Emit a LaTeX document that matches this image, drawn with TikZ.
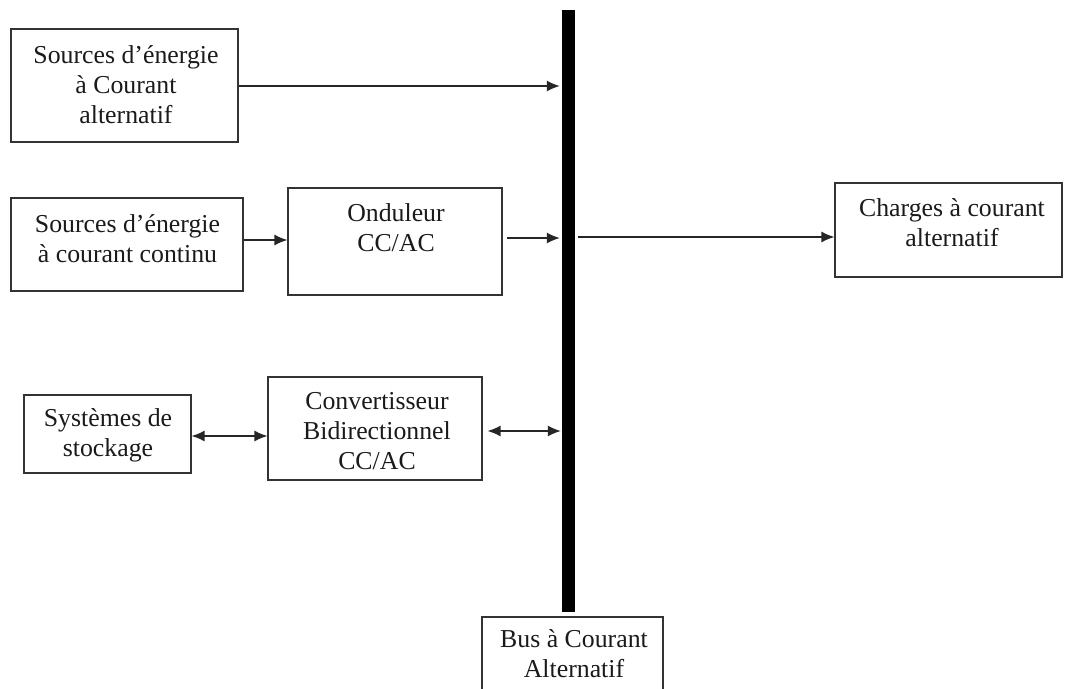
\documentclass[tikz,border=0pt]{standalone}
\usepackage{fontspec}
\setmainfont{Liberation Serif}
\usetikzlibrary{arrows.meta}
\definecolor{boxgray}{HTML}{333333}
\definecolor{txtgray}{HTML}{1A1A1A}
\tikzset{
  box/.style={draw=boxgray, line width=1.2pt, inner sep=0pt},
  txt/.style={align=center, font=\fontsize{25.8}{30}\selectfont, inner sep=0pt, text=txtgray},
  arr/.style={draw=black!85, line width=1.3pt, -{Latex[length=13pt,width=11pt]}},
  darr/.style={draw=black!85, line width=1.3pt, {Latex[length=13pt,width=11pt]}-{Latex[length=13pt,width=11pt]}},
}
\begin{document}
\begin{tikzpicture}[x=1pt,y=-1pt]
\useasboundingbox (0,0) rectangle (1065,688);
\clip (0,0) rectangle (1065,688);
% bus bar
\node[fill=black, inner sep=0pt, minimum width=13pt, minimum height=602pt] (bar) at (568.5,311) {};
% boxes
\node[box, minimum width=227pt, minimum height=113pt] (b1) at (124.5,85.5) {};
\node[txt] (t1) at (126,85) {Sources d’énergie\\à Courant\\alternatif};
\node[box, minimum width=232pt, minimum height=93pt] (b2) at (127,244.5) {};
\node[txt] (t2) at (127.5,238.5) {Sources d’énergie\\à courant continu};
\node[box, minimum width=214pt, minimum height=107pt] (ond) at (395,241.5) {};
\node[txt] (t3) at (396,228) {Onduleur\\CC/AC};
\node[box, minimum width=227pt, minimum height=94pt] (ch) at (948.5,230) {};
\node[txt] (t4) at (952,223) {Charges à courant\\alternatif};
\node[box, minimum width=167pt, minimum height=78pt] (sto) at (107.5,434) {};
\node[txt] (t5) at (108,435) {Systèmes de\\stockage};
\node[box, minimum width=214pt, minimum height=103pt] (conv) at (375,428.5) {};
\node[txt] (t6) at (377,431) {Convertisseur\\Bidirectionnel\\CC/AC};
\node[box, minimum width=181pt, minimum height=100pt] (bus) at (572.5,667) {};
\node[txt] (t7) at (574,653.5) {Bus à Courant\\Alternatif};
% levels
\coordinate (y1) at (0,86);
\coordinate (y2) at (0,240);
\coordinate (y3) at (0,238);
\coordinate (y4) at (0,237);
\coordinate (y5) at (0,436);
\coordinate (y6) at (0,431);
% connectors
\draw[arr, shorten >=2pt] (b1.east |- y1) -- (bar.west |- y1);
\draw[arr] (b2.east |- y2) -- (ond.west |- y2);
\draw[arr, shorten <=4pt, shorten >=2pt] (ond.east |- y3) -- (bar.west |- y3);
\draw[arr, shorten <=3pt] (bar.east |- y4) -- (ch.west |- y4);
\draw[darr] (sto.east |- y5) -- (conv.west |- y5);
\draw[darr, shorten <=5pt, shorten >=1pt] (conv.east |- y6) -- (bar.west |- y6);
\end{tikzpicture}
\end{document}
